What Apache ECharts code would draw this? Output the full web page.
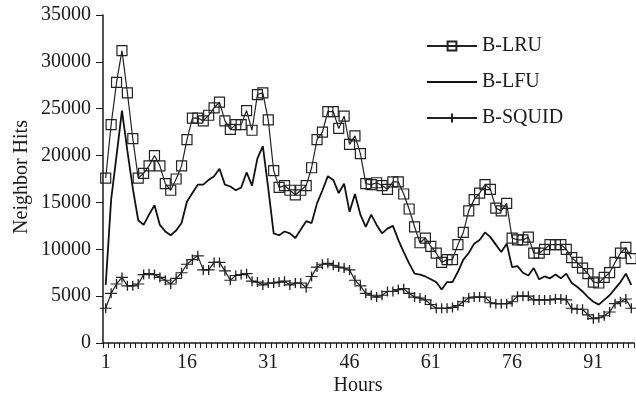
<!DOCTYPE html>
<html><head><meta charset="utf-8">
<script src="https://cdn.jsdelivr.net/npm/echarts@6/dist/echarts.min.js"></script>
<style>html,body{margin:0;padding:0;background:#fff}#c{width:636px;height:403px}</style>
</head><body><div id="c"></div>
<script>
const hours = ['1','2','3','4','5','6','7','8','9','10','11','12','13','14','15','16','17','18','19','20',
'21','22','23','24','25','26','27','28','29','30','31','32','33','34','35','36','37','38','39','40',
'41','42','43','44','45','46','47','48','49','50','51','52','53','54','55','56','57','58','59','60',
'61','62','63','64','65','66','67','68','69','70','71','72','73','74','75','76','77','78','79','80',
'81','82','83','84','85','86','87','88','89','90','91','92','93','94','95','96','97','98'];
const xTickLabels = ['1','16','31','46','61','76','91'];
const yTicks = [0,5000,10000,15000,20000,25000,30000,35000];

const bLRU = [17600,23300,27800,31200,26700,21800,17600,18100,18900,20000,
18900,17000,16300,17500,18900,21700,24000,24000,23700,24300,
25100,25700,23700,22800,23300,23300,24800,22700,26500,26700,
23800,18400,16600,16800,16300,15800,16300,16800,18700,21700,
22500,24700,24700,22900,24200,21200,22100,20200,17000,16900,
17100,16800,16400,17200,17200,15900,14300,12400,10700,11200,
10300,9600,8600,8900,8900,10500,11800,14100,15300,16000,
16900,16400,14400,14100,14900,11200,11000,11000,11300,9600,
9600,10000,10500,10500,10500,10000,9100,8600,8000,7400,
6500,6400,7000,7500,8600,9600,10200,9000];

const bLFU = [6200,15300,20000,24800,20500,16500,13100,12600,13700,14700,
12600,11900,11500,12000,12800,15100,16000,16900,16900,17400,
17800,18600,16900,16700,16300,16600,18200,16800,19700,21000,
16500,11700,11500,11900,11700,11200,12100,13000,12800,14900,
16300,17800,17400,16000,17000,14000,15900,13700,12400,13700,
12600,11700,12200,12500,11000,9700,8500,7400,7300,7100,
6800,6500,5700,6500,6500,7600,8900,9600,10600,11000,
11800,11300,10500,9700,10600,8100,8200,7500,7200,8000,
6800,7100,6900,7300,6900,7400,6400,6000,5500,4900,
4400,4100,4600,5100,5800,6500,7400,6200];

const bSQUID = [3700,5300,6300,7000,6100,6100,6300,7300,7400,7300,
7000,6700,6300,6900,7500,8400,8900,9300,7800,7800,
8600,8600,7700,6700,7200,7300,7400,6600,6500,6200,
6400,6400,6500,6600,6200,6400,6400,5900,7100,8100,
8400,8500,8300,8100,8000,7800,6700,6100,5300,5100,
4900,5100,5500,5500,5700,5800,5300,4900,4800,4600,
4100,3700,3700,3700,3800,4000,4400,4800,4900,4900,
4900,4300,4200,4200,4200,4400,5000,5000,5000,4600,
4600,4600,4600,4700,4700,4600,3700,3600,3600,3000,
2600,2700,2900,3300,4200,4400,4700,3700];

const FONT = '"Liberation Serif", "Times New Roman", serif';
const INK = '#1a1a1a';
const chart = echarts.init(document.getElementById('c'), null, {renderer:'canvas'});
chart.setOption({
  animation: false,
  backgroundColor: '#fff',
  grid: {left: 103, top: 15, right: 2, bottom: 60, containLabel: false},
  legend: {
    orient: 'vertical', left: 421, top: 31, itemWidth: 50, itemHeight: 11, itemGap: 16,
    textStyle: {fontFamily: FONT, fontSize: 20, color: INK, lineHeight: 20},
    data: [
      {name: 'B-LRU'},
      {name: 'B-LFU', icon: 'path://M0,0L50,0L50,1.8L0,1.8Z'},
      {name: 'B-SQUID'}
    ]
  },
  xAxis: {
    type: 'category', data: hours, boundaryGap: true,
    axisLine: {lineStyle: {color: INK, width: 1.5}},
    axisTick: {show: true, interval: 0, length: 5, lineStyle: {color: INK, width: 1}},
    axisLabel: {
      interval: function(i, v){ return xTickLabels.indexOf(v) >= 0; },
      fontFamily: FONT, fontSize: 20, color: INK, margin: 10
    },
    splitLine: {show: false}
  },
  yAxis: {
    type: 'value', min: yTicks[0], max: yTicks[yTicks.length-1], interval: 5000,
    axisLine: {show: true, lineStyle: {color: INK, width: 1.5}},
    axisTick: {show: true, length: 7, lineStyle: {color: INK, width: 1}},
    axisLabel: {fontFamily: FONT, fontSize: 20, color: INK, margin: 12,
      formatter: function(v){ return String(v); }},
    splitLine: {show: false}
  },
  graphic: [
    {type: 'text', x: 22, y: 177, rotation: Math.PI/2,
     style: {text: 'Neighbor Hits', font: '20px ' + FONT, fill: INK, textAlign: 'center', textVerticalAlign: 'middle'}},
    {type: 'text', x: 358, y: 386,
     style: {text: 'Hours', font: '20px ' + FONT, fill: INK, textAlign: 'center', textVerticalAlign: 'middle'}}
  ],
  series: [
    {name: 'B-LRU', type: 'line', data: bLRU, symbol: 'rect', symbolSize: 10, showAllSymbol: true,
     lineStyle: {color: '#222', width: 1.2},
     itemStyle: {color: 'rgba(255,255,255,0)', borderColor: '#222', borderWidth: 1.2}},
    {name: 'B-LFU', type: 'line', data: bLFU, showSymbol: false,
     lineStyle: {color: '#111', width: 1.8}, itemStyle: {color: '#111'}},
    {name: 'B-SQUID', type: 'line', data: bSQUID, symbol: 'path://M6,0L6,10M0,5L12,5', symbolSize: [12, 10], showAllSymbol: true,
     lineStyle: {color: '#222', width: 1.2},
     itemStyle: {color: '#222', borderColor: '#222', borderWidth: 1.2}}
  ]
});
</script></body></html>
